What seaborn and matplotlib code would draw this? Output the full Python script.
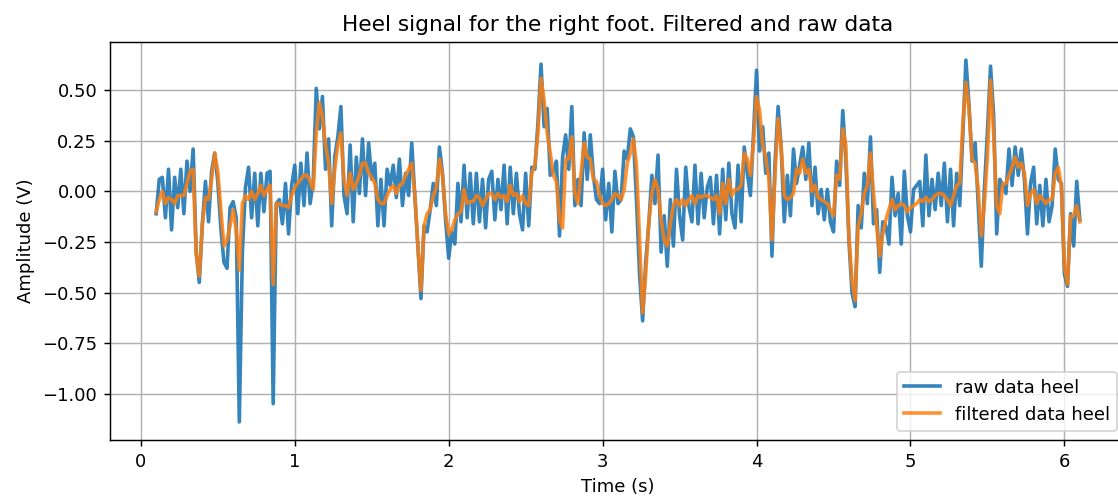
import numpy as np
import pandas as pd
import matplotlib
matplotlib.use("Agg")
import matplotlib.pyplot as plt
import seaborn as sns

# Sampling: 0.10 s .. 6.10 s every 0.02 s
t_start, t_end = 0.10, 6.10

raw_heel = [
    -0.11, 0.06, 0.07, -0.13, 0.11, -0.19, 0.07, -0.08, 0.11, -0.11,
    0.15, 0.00, 0.21, -0.30, -0.45, -0.16, 0.05, -0.15, 0.10, 0.19,
    0.05, -0.18, -0.35, -0.38, -0.08, -0.05, -0.13, -1.14, -0.30, 0.02,
    0.12, -0.13, 0.09, -0.17, 0.09, -0.10, 0.09, 0.10, -1.05, -0.06,
    -0.04, -0.16, 0.04, -0.21, 0.03, 0.13, -0.11, 0.14, -0.07, 0.19,
    -0.06, 0.05, 0.51, 0.31, 0.47, 0.11, 0.26, -0.17, 0.17, 0.27,
    0.42,
    -0.02, -0.11, 0.23, -0.15, 0.17, -0.01, 0.26, -0.02, 0.24, 0.06,
    0.14, -0.17, 0.06, -0.17, 0.11, 0.03, 0.13, -0.03, 0.16, -0.07,
    0.09, -0.02, 0.24, -0.02, -0.27, -0.53, -0.17, -0.20, -0.09, 0.04,
    -0.07, 0.22, 0.09, -0.14, -0.33, -0.20, -0.26, 0.04, -0.15, 0.13,
    -0.13, 0.09, -0.16, 0.09, -0.15, 0.06, -0.18, 0.06, 0.10, -0.14,
    0.06, -0.09, 0.13, -0.16, 0.12, -0.11, 0.09, -0.11, -0.19, 0.09,
    -0.17,
    0.12, 0.11, 0.34, 0.63, 0.32, 0.41, 0.08, 0.10, 0.15, -0.22,
    0.17, 0.28, 0.11, 0.42, -0.07, 0.06, -0.07, 0.29, 0.06, 0.28,
    0.08, -0.04, -0.06, 0.11, -0.14, 0.04, -0.20, 0.10, -0.06, -0.04,
    0.20, 0.16, 0.31, 0.27, -0.04, -0.41, -0.64, -0.35, -0.16, 0.08,
    -0.06, 0.18, -0.30, -0.12, -0.37, -0.04, -0.27, 0.11, -0.12, -0.24,
    0.12, -0.07, -0.15, 0.13, -0.16, 0.09, -0.13, 0.02, 0.07, -0.16,
    0.08,
    -0.21, 0.11, -0.14, 0.14, -0.11, -0.18, 0.13, -0.15, 0.22, 0.09,
    -0.02, 0.28, 0.60, 0.20, 0.32, 0.09, 0.19, -0.32, 0.14, 0.42,
    0.22, -0.15, 0.08, -0.12, 0.21, 0.04, 0.13, 0.22, 0.06, 0.24,
    -0.07, 0.12, -0.11, 0.01, -0.14, 0.01, -0.15, -0.20, 0.15, 0.03,
    0.40, 0.16, -0.24, -0.50, -0.57, -0.07, -0.18, 0.09, -0.06, 0.27,
    -0.16, -0.09, -0.40, -0.15, -0.17, -0.26, 0.07, -0.12, -0.01, -0.26,
    0.10, -0.12,
    -0.20, 0.01, 0.03, 0.05, -0.17, 0.18, -0.12, 0.06, -0.09, 0.09,
    -0.07, 0.14, -0.15, 0.11, -0.17, 0.09, -0.07, 0.28, 0.65, 0.43,
    0.15, 0.24, -0.07, -0.37, 0.01, 0.30, 0.62, 0.38, -0.21, 0.06,
    0.03, -0.01, 0.21, 0.03, 0.22, 0.08, 0.21, 0.06, -0.21, 0.04,
    0.12, -0.16, 0.03, -0.17, 0.06, -0.15, -0.07, 0.21, 0.06, 0.04,
    -0.41, -0.47, -0.11, -0.27, 0.05, -0.14,
]

filtered_heel = [
    -0.10, -0.04, 0.00, -0.06, -0.03, -0.04, -0.06, -0.02, -0.02, -0.02,
    0.04, 0.10, 0.11, -0.31, -0.42, -0.16, -0.03, -0.04, 0.06, 0.19,
    0.10, -0.09, -0.27, -0.24, -0.17, -0.09, -0.19, -0.39, -0.06, -0.02,
    -0.04, 0.00, -0.04, -0.01, 0.03, -0.02, 0.01, 0.03, -0.46, -0.06,
    -0.06, -0.07, -0.07, -0.08, -0.02, 0.02, 0.04, 0.06, 0.08, 0.08,
    0.05, 0.01, 0.29, 0.44, 0.37, 0.23, 0.14, -0.06, 0.11, 0.23,
    0.29,
    0.06, -0.02, 0.09, 0.01, 0.04, 0.08, 0.14, 0.14, 0.09, 0.07,
    0.04, -0.04, -0.06, -0.06, -0.02, 0.01, 0.03, -0.01, 0.03, 0.04,
    0.08, 0.11, 0.14, -0.01, -0.27, -0.49, -0.17, -0.11, -0.09, -0.02,
    0.02, 0.16, 0.08, -0.11, -0.21, -0.19, -0.14, -0.11, -0.10, 0.01,
    -0.06, -0.05, -0.05, -0.02, -0.03, -0.07, -0.04, -0.01, -0.01, -0.04,
    -0.01, -0.03, -0.02, -0.05, 0.03, -0.02, -0.01, -0.05, -0.02, -0.06,
    -0.07,
    0.09, 0.13, 0.29, 0.56, 0.45, 0.29, 0.19, 0.08, 0.05, -0.14,
    -0.18, 0.16, 0.16, 0.27, -0.01, -0.06, 0.09, 0.24, 0.17, 0.16,
    0.06, 0.05, -0.02, -0.06, -0.07, -0.06, -0.04, -0.01, -0.02, -0.04,
    0.01, 0.14, 0.19, 0.26, 0.13, -0.24, -0.60, -0.41, -0.15, -0.01,
    0.06, 0.01, -0.14, -0.24, -0.27, -0.16, -0.07, -0.04, -0.07, -0.04,
    -0.07, -0.04, -0.02, -0.06, -0.02, -0.03, -0.02, -0.02, -0.03, -0.04,
    -0.02,
    -0.11, 0.04, -0.06, 0.06, -0.02, 0.01, 0.01, 0.03, 0.19, 0.16,
    0.08, 0.24, 0.47, 0.40, 0.23, 0.17, 0.06, -0.24, 0.08, 0.36,
    0.22, -0.02, -0.04, -0.03, -0.01, 0.11, 0.09, 0.16, 0.09, 0.11,
    0.00, 0.03, -0.03, -0.04, -0.05, -0.06, -0.09, -0.12, 0.08, 0.06,
    0.31, 0.23, -0.22, -0.44, -0.54, -0.17, -0.11, -0.01, 0.03, 0.19,
    -0.01, -0.17, -0.32, -0.21, -0.14, -0.09, -0.04, -0.09, -0.07, -0.06,
    -0.07, -0.10,
    -0.08, -0.07, -0.06, -0.04, -0.05, -0.03, -0.05, -0.04, -0.02, -0.01,
    -0.01, -0.02, -0.04, -0.07, -0.02, 0.03, 0.04, 0.33, 0.54, 0.41,
    0.16, 0.14, 0.01, -0.22, -0.06, 0.18, 0.55, 0.29, -0.07, -0.11,
    0.04, 0.04, 0.08, 0.12, 0.17, 0.12, 0.14, 0.09, -0.07, -0.01,
    0.01, -0.06, -0.02, -0.04, -0.06, -0.04, -0.04, 0.09, 0.12, 0.03,
    -0.37, -0.46, -0.12, -0.12, -0.07, -0.15,
]

time_s = np.linspace(t_start, t_end, len(raw_heel))

df = pd.DataFrame({"time": time_s, "raw": raw_heel, "filtered": filtered_heel})

DPI = 130
plt.rcParams["font.family"] = ["DejaVu Sans"]
fig = plt.figure(figsize=(1118 / DPI, 498 / DPI), dpi=DPI)
ax = fig.add_axes([110 / 1118, 1 - 440 / 498, (1126 - 110) / 1118, (440 - 42) / 498])

sns.lineplot(data=df, x="time", y="raw", ax=ax, color="#1f77b4",
             linewidth=2.0, label="raw data heel", alpha=0.9)
sns.lineplot(data=df, x="time", y="filtered", ax=ax, color="#ff7f0e",
             linewidth=2.0, label="filtered data heel", alpha=0.85)

ax.set_title("Heel signal for the right foot. Filtered and raw data")
ax.set_xlabel("Time (s)")
ax.set_ylabel("Amplitude (V)")
ax.grid(True)
ax.legend(loc="lower right")

fig.savefig("out.png", dpi=DPI)
